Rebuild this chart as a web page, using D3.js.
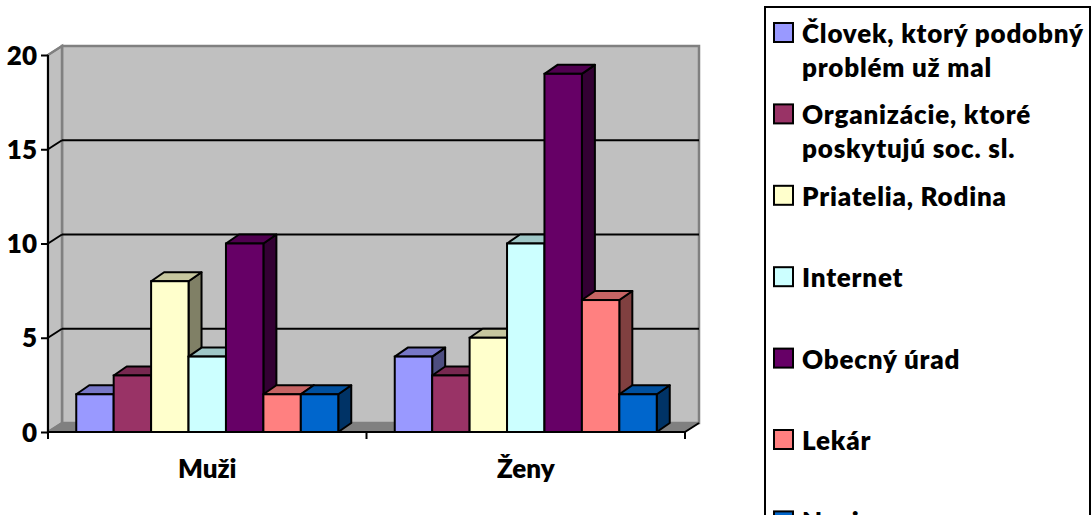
<!DOCTYPE html>
<html>
<head>
<meta charset="utf-8">
<script src="https://cdn.jsdelivr.net/npm/d3@7/dist/d3.min.js"></script>
<style>
  html, body { margin: 0; padding: 0; background: #fff; overflow: hidden; }
  svg { display: block; font-family: Lato, "Open Sans", sans-serif; font-weight: 700; }
</style>
</head>
<body>
<svg id="chart" width="1092" height="515"></svg>
<script>
// Data
var categories = ["Muži", "Ženy"];
var series = [
  "Človek, ktorý podobný problém už mal",
  "Organizácie, ktoré poskytujú soc. sl.",
  "Priatelia, Rodina",
  "Internet",
  "Obecný úrad",
  "Lekár",
  "Nevie"
];
// legend lines (wrapped like the original)
var legendLines = [
  ["Človek, ktorý podobný", "problém už mal"],
  ["Organizácie, ktoré", "poskytujú soc. sl."],
  ["Priatelia, Rodina"],
  ["Internet"],
  ["Obecný úrad"],
  ["Lekár"],
  ["Nevie"]
];
var valuesMuzi = [2, 3, 8, 4, 10, 2, 2];
var valuesZeny = [4, 3, 5, 10, 19, 7, 2];
var yTicks = [0, 5, 10, 15, 20];
var colors = ["#9999FF", "#993366", "#FFFFCC", "#CCFFFF", "#660066", "#FF8080", "#0066CC"];

var svg = d3.select("#chart");

// plot box (front plane) and depth of the 3d walls
var plotLeft = 48, plotRight = 685, plotBottom = 432, plotTop = 55;
var depthX = 14, depthY = 9;      // wall depth
var barDX = 13, barDY = 9;        // bar depth

var x0 = d3.scaleBand().domain(categories).range([plotLeft, plotRight]);
var x1 = d3.scaleBand().domain(series).range([0, 262]);
var groupOffset = (x0.bandwidth() - 262) / 2;
var y = d3.scaleLinear().domain([0, 20]).range([plotBottom, plotTop]);

function shade(c, k) {
  var r = d3.rgb(c);
  return d3.rgb(r.r * k, r.g * k, r.b * k).toString();
}
function pts(a) { return a.map(function(p){ return p.join(","); }).join(" "); }

// back wall
svg.append("rect")
  .attr("x", plotLeft + depthX).attr("y", y(20) - depthY)
  .attr("width", plotRight - plotLeft).attr("height", y(0) - y(20))
  .attr("fill", "#C0C0C0").attr("stroke", "#808080").attr("stroke-width", 2.5);

// side wall
svg.append("polygon")
  .attr("points", pts([[plotLeft, y(20)], [plotLeft + depthX, y(20) - depthY], [plotLeft + depthX, y(0) - depthY], [plotLeft, y(0)]]))
  .attr("fill", "#C0C0C0").attr("stroke", "#808080").attr("stroke-width", 2.5);

// floor
svg.append("polygon")
  .attr("points", pts([[plotLeft, y(0)], [plotRight, y(0)], [plotRight + depthX, y(0) - depthY], [plotLeft + depthX, y(0) - depthY]]))
  .attr("fill", "#808080").attr("stroke", "#808080").attr("stroke-width", 1);

// gridlines on back wall + diagonals on side wall
yTicks.filter(function(t){ return t > 0 && t < 20; }).forEach(function(t) {
  svg.append("line")
    .attr("x1", plotLeft + depthX).attr("x2", plotRight + depthX)
    .attr("y1", y(t) - depthY).attr("y2", y(t) - depthY)
    .attr("stroke", "#000").attr("stroke-width", 2);
});
yTicks.forEach(function(t) {
  svg.append("line")
    .attr("x1", plotLeft).attr("y1", y(t))
    .attr("x2", plotLeft + depthX).attr("y2", y(t) - depthY)
    .attr("stroke", (t === 20 || t === 0) ? "#808080" : "#000").attr("stroke-width", 2);
});

// bars
var data = [];
categories.forEach(function(c, ci) {
  var vals = ci === 0 ? valuesMuzi : valuesZeny;
  series.forEach(function(s, si) {
    data.push({cat: c, ser: s, i: si, v: vals[si]});
  });
});

var bar = svg.selectAll("g.bar")
  .data(data)
  .enter()
.append("g")
  .attr("class", "bar");

bar.each(function(d) {
  var g = d3.select(this);
  var bx = x0(d.cat) + groupOffset + x1(d.ser);
  var bw = x1.bandwidth();
  var by = y(d.v), b0 = y(0);
  // side
  g.append("polygon")
    .attr("points", pts([[bx + bw, by], [bx + bw + barDX, by - barDY], [bx + bw + barDX, b0 - barDY], [bx + bw, b0]]))
    .attr("fill", shade(colors[d.i], 0.5))
    .attr("stroke", "#000").attr("stroke-width", 2).attr("stroke-linejoin", "round");
  // top
  g.append("polygon")
    .attr("points", pts([[bx, by], [bx + barDX, by - barDY], [bx + bw + barDX, by - barDY], [bx + bw, by]]))
    .attr("fill", shade(colors[d.i], 0.78))
    .attr("stroke", "#000").attr("stroke-width", 2).attr("stroke-linejoin", "round");
  // front
  g.append("rect")
    .attr("x", bx).attr("y", by).attr("width", bw).attr("height", b0 - by)
    .attr("fill", colors[d.i])
    .attr("stroke", "#000").attr("stroke-width", 2);
});

// y axis
var yaxis = d3.axisLeft(y).tickValues(yTicks).tickSize(7).tickPadding(4);
var gy = svg.append("g")
  .attr("transform", "translate(" + plotLeft + ",0)")
  .call(yaxis);
gy.select(".domain").attr("stroke", "#000").attr("stroke-width", 2).attr("d", "M0," + y(20) + "V" + y(0));
gy.selectAll(".tick line").attr("stroke", "#000").attr("stroke-width", 2);
gy.selectAll(".tick text")
  .attr("fill", "#000").attr("font-size", 26).attr("font-weight", 800)
  .attr("font-family", "Lato, sans-serif").attr("dy", "0.35em");

// x axis
var xaxis = d3.axisBottom(x0).tickSize(0).tickPadding(28);
var gx = svg.append("g")
  .attr("transform", "translate(0," + plotBottom + ")")
  .call(xaxis);
gx.select(".domain").attr("stroke", "#000").attr("stroke-width", 2).attr("d", "M" + plotLeft + ",0H" + plotRight);
gx.selectAll(".tick text")
  .attr("fill", "#000").attr("font-size", 26).attr("font-weight", 800)
  .attr("font-family", "Lato, sans-serif").attr("dy", "0.71em");
// category boundary ticks
[plotLeft, (plotLeft + plotRight) / 2, plotRight].forEach(function(tx) {
  gx.append("line").attr("x1", tx).attr("x2", tx).attr("y1", 0).attr("y2", 7)
    .attr("stroke", "#000").attr("stroke-width", 2);
});
gx.append("line")
  .attr("x1", plotRight).attr("y1", 0).attr("x2", plotRight + depthX).attr("y2", -depthY)
  .attr("stroke", "#000").attr("stroke-width", 2);

// legend
var legend = svg.append("g");
legend.append("rect")
  .attr("x", 765).attr("y", 7).attr("width", 325).attr("height", 540)
  .attr("fill", "#fff").attr("stroke", "#000").attr("stroke-width", 2);

var item = legend.selectAll("g.item")
  .data(series)
  .enter()
.append("g")
  .attr("class", "item")
  .attr("transform", function(d, i) { return "translate(0," + (43 + i * 81.4) + ")"; });

item.append("rect")
  .attr("x", 774).attr("y", -20).attr("width", 19).attr("height", 19)
  .attr("fill", function(d, i) { return colors[i]; })
  .attr("stroke", "#000").attr("stroke-width", 2);

item.each(function(d, i) {
  var t = d3.select(this).append("text")
    .attr("x", 802).attr("y", 0)
    .attr("font-size", 26).attr("font-weight", 800).attr("letter-spacing", 0.8).attr("fill", "#000");
  legendLines[i].forEach(function(line, li) {
    t.append("tspan").attr("x", 802).attr("dy", li === 0 ? 0 : 34).text(line);
  });
});
</script>
</body>
</html>
